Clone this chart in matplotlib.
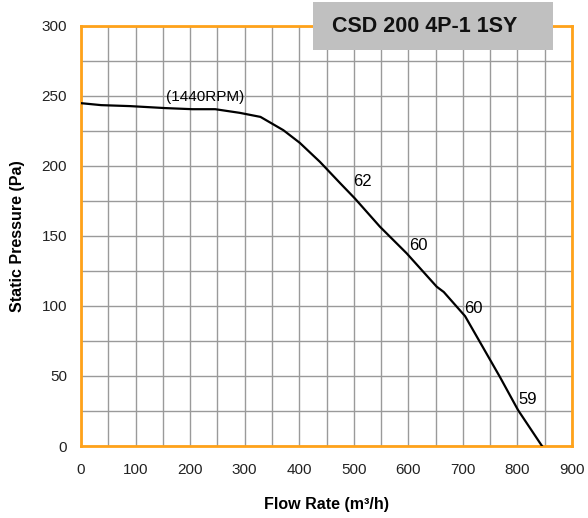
import matplotlib
matplotlib.use("Agg")
import matplotlib.pyplot as plt
from matplotlib.patches import Rectangle
from matplotlib.ticker import MultipleLocator

plt.rcParams['font.family'] = ['Liberation Sans', 'DejaVu Sans']

flow = [0, 37, 90, 154, 204, 246, 291, 329, 371, 401, 438, 475, 502, 548, 597, 652, 665, 704, 768, 801, 845]
pressure = [244.7, 243.3, 242.6, 241.2, 240.4, 240.4, 237.8, 234.9, 225.4, 216.4, 202.8, 187.6, 176.7, 156.5, 137.5, 113.7, 109.9, 92.7, 49.2, 25.7, 0]

labels = ["(1440RPM)", "62", "60", "60", "59"]
label_x = [227, 515, 618, 720, 819]
label_y = [249, 189, 143, 98.5, 33.5]

title = "CSD 200 4P-1 1SY"
xticks = [0, 100, 200, 300, 400, 500, 600, 700, 800, 900]
yticks = [0, 50, 100, 150, 200, 250, 300]

fig = plt.figure(figsize=(5.88, 5.18), dpi=100)
ax = fig.add_axes([81/588, 1-446/518, (572-81)/588, (446-25.7)/518])

ax.set_xlim(0, 900)
ax.set_ylim(0, 300)
ax.set_xticks(xticks)
ax.set_yticks(yticks)
ax.xaxis.set_minor_locator(MultipleLocator(50))
ax.yaxis.set_minor_locator(MultipleLocator(25))
ax.grid(True, which='both', color='#9a9a9a', linewidth=1.0)
ax.set_axisbelow(True)
ax.tick_params(which='both', length=0)
ax.tick_params(axis='x', pad=12, labelsize=11, colors='#222222')
ax.tick_params(axis='y', pad=10, labelsize=11, colors='#222222')
for s in ax.spines.values():
    s.set_color('#FFA21A')
    s.set_linewidth(2)

ax.plot(flow, pressure, color='black', linewidth=1.6, zorder=3)

for t, x, y in zip(labels, label_x, label_y):
    ax.text(x, y, t, ha='center', va='center', fontsize=11 if t.startswith('(') else 12, color='black', zorder=4)

ax.set_xlabel("Flow Rate (m³/h)", fontsize=11.5, fontweight='bold', labelpad=15)
ax.set_ylabel("Static Pressure (Pa)", fontsize=11.5, fontweight='bold', labelpad=12)

fig.patches.append(Rectangle((313/588, 1-50/518), (553-313)/588, 48/518,
                             transform=fig.transFigure, facecolor='#C0C0C0', edgecolor='none', zorder=10))
fig.text(425/588, 1-26/518, title, ha='center', va='center', fontsize=15.5, fontweight='bold', color='#111111', zorder=11)

fig.savefig("out.png", dpi=100)
